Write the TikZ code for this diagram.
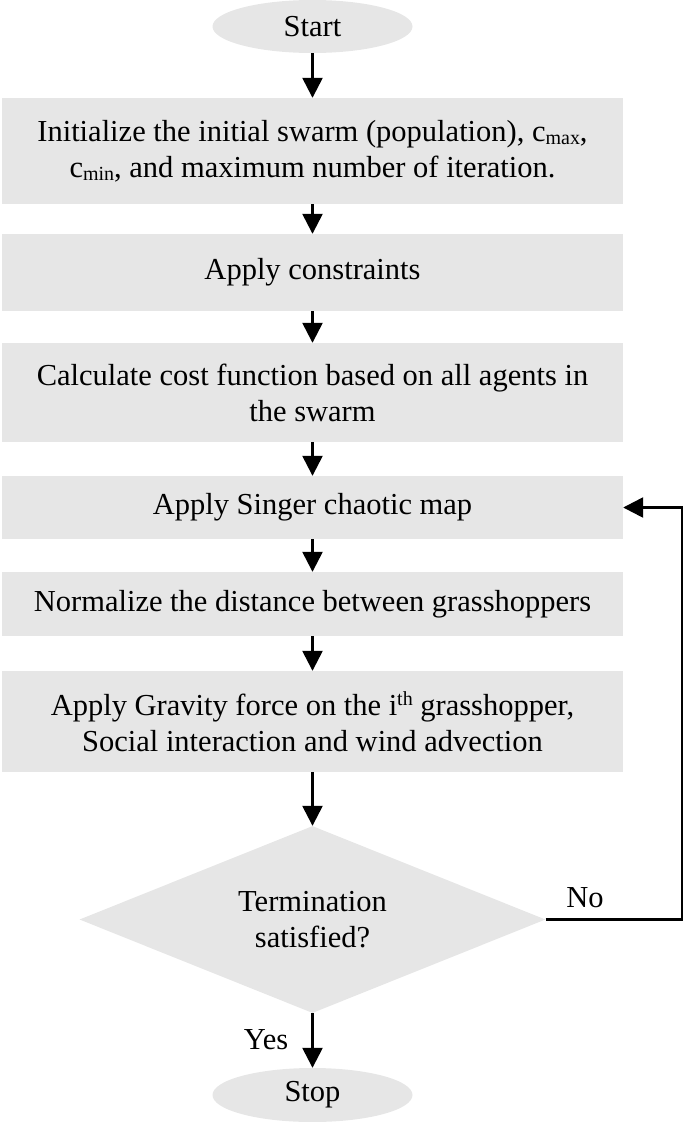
\documentclass[tikz,border=0pt]{standalone}
\usepackage{fontspec}
\setmainfont{Liberation Serif}
\usetikzlibrary{shapes.geometric,arrows.meta}
\definecolor{boxgray}{RGB}{230,230,230}
\newcommand{\lowtxt}[1]{\raisebox{-3pt}{\fontsize{20}{20}\selectfont #1}}
\newcommand{\hightxt}[1]{\raisebox{10pt}{\fontsize{20}{20}\selectfont #1}}
\begin{document}
\begin{tikzpicture}[x=1pt,y=-1pt,
  txt/.style={font=\fontsize{30.5}{36}\selectfont},
  box/.style={txt, rectangle, fill=boxgray, inner sep=0pt, minimum width=621pt, align=center},
  term/.style={txt, ellipse, fill=boxgray, inner sep=0pt, minimum width=200pt, minimum height=53pt},
  dec/.style={txt, diamond, aspect=2.5, fill=boxgray, inner sep=0pt, minimum width=466pt, minimum height=187pt, align=center},
  arr/.style={line width=2.5pt, -{Triangle[width=20pt,length=20pt]}},
  lbl/.style={txt, inner sep=0pt}]
\useasboundingbox (0,0) rectangle (685,1122);
\node[term] (start) at (312.5,26.5) {Start};
\node[box, minimum height=106pt] (b1) at (312.5,151) {Initialize the initial swarm (population), c\lowtxt{max},\\ c\lowtxt{min}, and maximum number of iteration.};
\node[box, minimum height=77pt] (b2) at (312.5,272.5) {Apply constraints};
\node[box, minimum height=99pt] (b3) at (312.5,392.5) {Calculate cost function based on all agents in\\ the swarm};
\node[box, minimum height=63pt] (b4) at (312.5,507.5) {Apply Singer chaotic map};
\node[box, minimum height=64pt] (b5) at (312.5,604) {Normalize the distance between grasshoppers};
\node[box, minimum height=101pt] (b6) at (312.5,721.5) {Apply Gravity force on the i\hightxt{th} grasshopper,\\ Social interaction and wind advection};
\node[dec] (d) at (312.5,919.5) {Termination\\ satisfied?};
\node[term, minimum height=54pt] (stop) at (312.5,1095) {Stop};
\coordinate (loop) at (682,0);
\node[lbl] (no) at (585,898) {No};
\node[lbl] (yes) at (266,1040) {Yes};
\draw[arr] (start) -- (b1);
\draw[arr] (b1) -- (b2);
\draw[arr] (b2) -- (b3);
\draw[arr] (b3) -- (b4);
\draw[arr] (b4) -- (b5);
\draw[arr] (b5) -- (b6);
\draw[arr] (b6) -- (d);
\draw[arr] (d) -- (stop);
\draw[arr] (d.east) -- (d.east -| loop) -- (b4.east -| loop) -- (b4.east);
\end{tikzpicture}
\end{document}
